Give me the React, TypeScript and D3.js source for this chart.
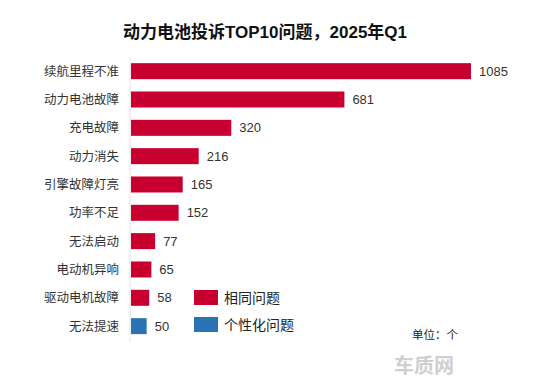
import React from "react";
import * as d3 from "d3";

const categories = ["续航里程不准", "动力电池故障", "充电故障", "动力消失", "引擎故障灯亮", "功率不足", "无法启动", "电动机异响", "驱动电机故障", "无法提速"];
const values = [1085, 681, 320, 216, 165, 152, 77, 65, 58, 50];
const groups = ["same", "same", "same", "same", "same", "same", "same", "same", "same", "personal"];
const legendLabels = ["相同问题", "个性化问题"];
const title = "动力电池投诉TOP10问题，2025年Q1";
const unitLabel = "单位：个";

const colors: Record<string, string> = { same: "#c8002f", personal: "#2a74b3" };
const font = "Arial, 'Liberation Sans', 'Microsoft YaHei', 'Noto Sans CJK SC', sans-serif";

export default function App() {
  const W = 550, H = 380;
  const x = d3.scaleLinear().domain([0, 1085]).range([131, 471]);
  const y = d3.scaleBand<string>().domain(categories).range([57, 340.3]).paddingInner(0.435).paddingOuter(0.2175);
  return (
    <svg width={W} height={H} style={{ position: "absolute", left: 0, top: 0, background: "#fff" }} fontFamily={font}>
      <text x={265} y={38} textAnchor="middle" fontSize={17} fontWeight="bold" fill="#111">{title}</text>
      <line x1={130} x2={130} y1={57} y2={342} stroke="#e4e4e4" strokeWidth={1} />
      {categories.map((c, i) => (
        <g key={c}>
          <text x={119} y={y(c)! + y.bandwidth() / 2} dy="0.35em" textAnchor="end" fontSize={12.5} fill="#333">{c}</text>
          <rect x={x(0)} y={y(c)} width={x(values[i]) - x(0)} height={y.bandwidth()} fill={colors[groups[i]]} />
          <text x={x(values[i]) + 8} y={y(c)! + y.bandwidth() / 2} dy="0.35em" fontSize={13} fill="#333">{values[i]}</text>
        </g>
      ))}
      {legendLabels.map((l, i) => (
        <g key={l} transform={`translate(194, ${290 + i * 27})`}>
          <rect width={24} height={15} fill={i === 0 ? colors.same : colors.personal} />
          <text x={30} y={8} dy="0.35em" fontSize={14} fill="#222">{l}</text>
        </g>
      ))}
      <text x={412} y={339} fontSize={11.5} fill="#222">{unitLabel}</text>
      <text x={394} y={373} fontSize={20} fontWeight="bold" fill="#cfcfcf">车质网</text>
    </svg>
  );
}
